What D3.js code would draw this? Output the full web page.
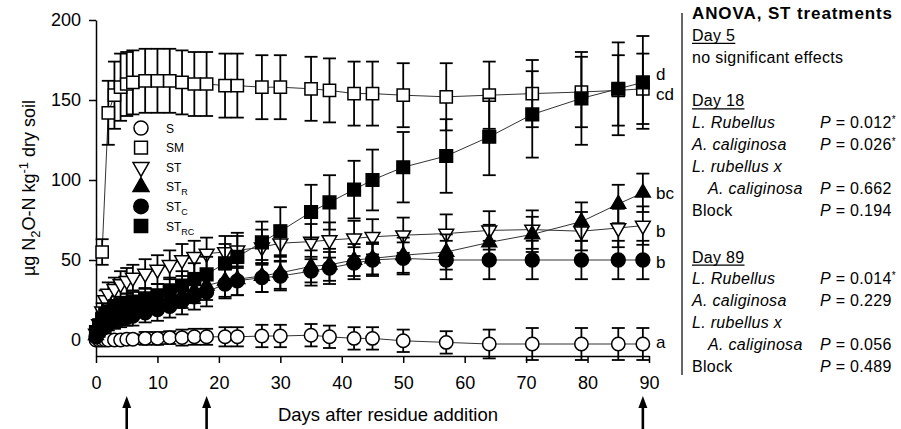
<!DOCTYPE html>
<html>
<head>
<meta charset="utf-8">
<script src="https://cdn.jsdelivr.net/npm/d3@7"></script>
<style>
  body { margin: 0; background: #fff; }
  svg text { font-family: Arial, "Liberation Sans", Helvetica, sans-serif; fill: #000; }
</style>
</head>
<body>
<svg id="chart" width="901" height="429"></svg>
<script>
// sampling days (days after residue addition)
let days = [0, 0.5, 1, 1.5, 2, 3, 4, 5, 6, 8, 10, 12, 14, 16, 18, 21, 23, 27, 30, 35, 38, 42, 45, 50, 57, 64, 71, 79, 85, 89];

// cumulative N2O-N, ug per kg dry soil, and error bars
let valS    = [0, 0, 0, 0, 0, 0, 0, 0.5, 0.5, 1, 1, 1.5, 1.5, 2, 2, 2, 2, 2.5, 2.5, 3, 2, 1, 1, -0.5, -1.5, -2.5, -2.5, -2.5, -2.5, -2.5];
let errS    = [1, 1, 2, 2, 2, 3, 3, 3, 3, 4, 4, 4, 5, 5, 5, 6, 6, 7, 7, 7, 7, 7, 7, 7, 7, 9, 10, 10, 10, 10];
let valSM   = [null, null, 55, null, 142, 153, 158, 160, 161, 162, 162, 162, 161, 160, 160, 159, 159, 158, 158, 157, 156, 154, 154, 153, 152, 153, 154, 155, 156, 157];
let errSM   = [null, null, 8, null, 20, 21, 21, 20, 20, 20, 20, 20, 20, 20, 20, 20, 20, 20, 20, 20, 20, 20, 20, 20, 21, 21, 21, 22, 22, 22];
let valST   = [4, 10, 18, 25, 29, 32, 35, 37, 39, 41.5, 44, 47, 50, 52, 54, 55, 56, 58, 60.5, 61.5, 62.5, 63.5, 64.5, 65.5, 66.5, 68.5, 69, 68, 70, 71.5];
let errST   = [2, 3, 5, 6, 7, 7, 8, 8, 8, 9, 9, 9, 10, 10, 10, 10, 11, 11, 11, 11, 11, 11, 11, 11, 12, 12, 12, 12, 12, 12];
let valSTR  = [3, 7, 10, 12, 14, 16, 18, 19, 20, 22, 24, 26, 28, 31, 34, 37, 38, 40, 42, 46, 47, 50, 51, 53, 55, 61, 66, 74, 85, 92];
let errSTR  = [2, 3, 4, 4, 5, 5, 5, 6, 6, 6, 7, 7, 8, 8, 9, 10, 10, 10, 10, 10, 10, 10, 10, 11, 11, 11, 11, 12, 12, 12];
let valSTC  = [2, 5, 7, 9, 10, 12, 13, 14, 15, 17, 19, 21, 24, 27, 30, 35, 37, 39, 40, 43, 45, 48, 50, 51, 50, 50, 50, 50, 50, 50];
let errSTC  = [2, 3, 3, 4, 4, 5, 5, 5, 6, 6, 7, 7, 8, 8, 9, 9, 9, 9, 9, 9, 10, 10, 10, 10, 12, 12, 12, 12, 12, 12];
let valSTRC = [5, 9, 13, 16, 18, 20, 22, 23, 24, 26, 28, 31, 34, 38, 41, 48, 52, 61, 68, 80, 86, 94, 100, 108, 115, 127, 141, 151, 157, 161];
let errSTRC = [2, 3, 4, 4, 5, 5, 5, 6, 6, 6, 7, 8, 9, 10, 11, 12, 13, 13, 15, 17, 17, 18, 19, 22, 23, 24, 27, 29, 29, 29];

let seriesNames = ["S", "SM", "ST", "STR", "STC", "STRC"];
let legendMain = ["S", "SM", "ST", "ST", "ST", "ST"];
let legendSub  = ["", "", "", "R", "C", "RC"];
let endLetters = ["a", "cd", "b", "bc", "b", "d"];

let xTicks = [0, 10, 20, 30, 40, 50, 60, 70, 80, 90];
let yTicks = [0, 50, 100, 150, 200];
let arrowDays = [5, 18, 89];

// ANOVA panel
let anovaTitle = "ANOVA, ST treatments";
let anovaTerms = ["L. Rubellus", "A. caliginosa", "L. rubellus x", "A. caliginosa", "Block"];
let day5Note = "no significant effects";
let pDay18 = ["0.012*", "0.026*", "", "0.662", "0.194"];
let pDay89 = ["0.014*", "0.229", "", "0.056", "0.489"];

let svg = d3.select("#chart");
svg.append("rect").attr("width", 901).attr("height", 429).attr("fill", "#fff");

let x = d3.scaleLinear().domain([0, 90]).range([96, 649]);
let y = d3.scaleLinear().domain([-10, 200]).range([356, 20]);

let series = seriesNames.map(function(name, i) {
    let vals = [valS, valSM, valST, valSTR, valSTC, valSTRC][i];
    let errs = [errS, errSM, errST, errSTR, errSTC, errSTRC][i];
    return {
        name: name,
        points: days.map((d, j) => ({day: d, v: vals[j], e: errs[j]})).filter(p => p.v != null)
    };
});

let markerStyle = {
    S:    {type: d3.symbolCircle,   size: 140, fill: "#fff", rot: 0},
    SM:   {type: d3.symbolSquare,   size: 150, fill: "#fff", rot: 0},
    ST:   {type: d3.symbolTriangle, size: 95,  fill: "#fff", rot: 180},
    STR:  {type: d3.symbolTriangle, size: 95,  fill: "#000", rot: 0},
    STC:  {type: d3.symbolCircle,   size: 150, fill: "#000", rot: 0},
    STRC: {type: d3.symbolSquare,   size: 160, fill: "#000", rot: 0}
};

// axes
let yAxis = svg.append("g")
    .attr("transform", "translate(96,0)")
    .call(d3.axisLeft(y).tickValues(yTicks).tickSize(7).tickSizeOuter(0).tickPadding(8));
let xAxis = svg.append("g")
    .attr("transform", "translate(0,356)")
    .call(d3.axisBottom(x).tickValues(xTicks).tickSize(7).tickSizeOuter(0).tickPadding(13));

[xAxis, yAxis].forEach(function(a) {
    a.selectAll("path, line").attr("stroke", "#000").attr("stroke-width", 1.5);
    a.selectAll("text").style("font-size", "18px").attr("fill", "#000");
});

// y label
let yLab = svg.append("text")
    .attr("transform", "translate(35,188) rotate(-90)")
    .style("text-anchor", "middle")
    .style("font-size", "18px");
yLab.append("tspan").text("\u00b5g N");
yLab.append("tspan").attr("dy", 5).style("font-size", "13px").text("2");
yLab.append("tspan").attr("dy", -5).text("O-N kg");
yLab.append("tspan").attr("dy", -7).style("font-size", "13px").text("-1");
yLab.append("tspan").attr("dy", 7).text(" dry soil");

// x label
svg.append("text")
    .attr("x", 388).attr("y", 421)
    .style("text-anchor", "middle")
    .style("font-size", "18.5px")
    .text("Days after residue addition");

// series: line, error bars, markers
let line = d3.line().x(d => x(d.day)).y(d => y(d.v));

series.forEach(function(s) {
    let g = svg.append("g").attr("class", "series-" + s.name);
    let st = markerStyle[s.name];

    g.append("path")
        .datum(s.points)
        .attr("d", line)
        .attr("fill", "none")
        .attr("stroke", "#333")
        .attr("stroke-width", 1);

    let eb = g.selectAll(".err").data(s.points).enter().append("g").attr("class", "err")
        .attr("stroke", "#000").attr("stroke-width", 1.8);
    eb.append("line")
        .attr("x1", d => x(d.day)).attr("x2", d => x(d.day))
        .attr("y1", d => y(d.v - d.e)).attr("y2", d => y(d.v + d.e));
    eb.append("line")
        .attr("x1", d => x(d.day) - 6.5).attr("x2", d => x(d.day) + 6.5)
        .attr("y1", d => y(d.v + d.e)).attr("y2", d => y(d.v + d.e));
    eb.append("line")
        .attr("x1", d => x(d.day) - 6.5).attr("x2", d => x(d.day) + 6.5)
        .attr("y1", d => y(d.v - d.e)).attr("y2", d => y(d.v - d.e));

    g.selectAll(".mk").data(s.points).enter().append("path").attr("class", "mk")
        .attr("d", d3.symbol().type(st.type).size(st.size))
        .attr("transform", d => `translate(${x(d.day)},${y(d.v)}) rotate(${st.rot})`)
        .attr("fill", st.fill)
        .attr("stroke", "#000")
        .attr("stroke-width", 1.5);
});

// letters at day 89
let letterNudge = {S: -2, SM: 5, ST: 5, STR: 0, STC: 2, STRC: -8};
series.forEach(function(s, i) {
    let last = s.points[s.points.length - 1];
    svg.append("text")
        .attr("x", 656)
        .attr("y", y(last.v) + 6 + letterNudge[s.name])
        .style("font-size", "17px")
        .text(endLetters[i]);
});

// legend
let legY = d3.scalePoint().domain(seriesNames).range([128, 226]);
seriesNames.forEach(function(name, i) {
    let st = markerStyle[name];
    svg.append("path")
        .attr("d", d3.symbol().type(st.type).size(st.size + 15))
        .attr("transform", `translate(141,${legY(name)}) rotate(${st.rot})`)
        .attr("fill", st.fill)
        .attr("stroke", "#000")
        .attr("stroke-width", 1.5);
    let t = svg.append("text")
        .attr("x", 166).attr("y", legY(name) + 4.5)
        .style("font-size", "12px")
        .text(legendMain[i]);
    if (legendSub[i]) {
        t.append("tspan").attr("dy", 4).style("font-size", "9px").text(legendSub[i]);
    }
});

// arrows under the x axis
arrowDays.forEach(function(d) {
    svg.append("line")
        .attr("x1", x(d)).attr("x2", x(d))
        .attr("y1", 404).attr("y2", 429)
        .attr("stroke", "#000").attr("stroke-width", 2.6);
    svg.append("path")
        .attr("d", `M${x(d) - 4.5},${408} L${x(d)},${396} L${x(d) + 4.5},${408} Z`)
        .attr("fill", "#000");
});

// ANOVA panel
svg.append("line")
    .attr("x1", 682).attr("x2", 682).attr("y1", 13).attr("y2", 375)
    .attr("stroke", "#333").attr("stroke-width", 1.5);

let px = 692, pIndent = 708, pCol = 820, lh = 21.85, panelTop = 19;
let panel = svg.append("g").style("font-size", "16px").style("letter-spacing", "0.3px");

panel.append("text").attr("x", px).attr("y", panelTop)
    .style("font-weight", "bold").style("font-size", "17px").style("letter-spacing", "0.9px")
    .text(anovaTitle);

function header(label, yy) {
    let t = panel.append("text").attr("x", px).attr("y", yy).text(label);
    let w = t.node().getComputedTextLength();
    panel.append("line").attr("x1", px).attr("x2", px + w)
        .attr("y1", yy + 2.5).attr("y2", yy + 2.5)
        .attr("stroke", "#000").attr("stroke-width", 1.2);
}

function termRows(pvals, y0) {
    anovaTerms.forEach(function(term, i) {
        let yy = y0 + i * lh;
        panel.append("text")
            .attr("x", i === 3 ? pIndent : px).attr("y", yy)
            .style("font-style", term === "Block" ? "normal" : "italic")
            .text(term);
        if (pvals[i]) {
            let t = panel.append("text").attr("x", pCol).attr("y", yy);
            t.append("tspan").style("font-style", "italic").text("P");
            let num = pvals[i].replace("*", "");
            t.append("tspan").text(" = " + num);
            if (pvals[i].indexOf("*") >= 0) {
                t.append("tspan").attr("dy", -5).style("font-size", "10px").text("*");
            }
        }
    });
}

header("Day 5", panelTop + lh);
panel.append("text").attr("x", px).attr("y", panelTop + 2 * lh).text(day5Note);
header("Day 18", panelTop + 4 * lh);
termRows(pDay18, panelTop + 5 * lh);
header("Day 89", panelTop + 11.15 * lh);
termRows(pDay89, panelTop + 12.15 * lh);
</script>
</body>
</html>
